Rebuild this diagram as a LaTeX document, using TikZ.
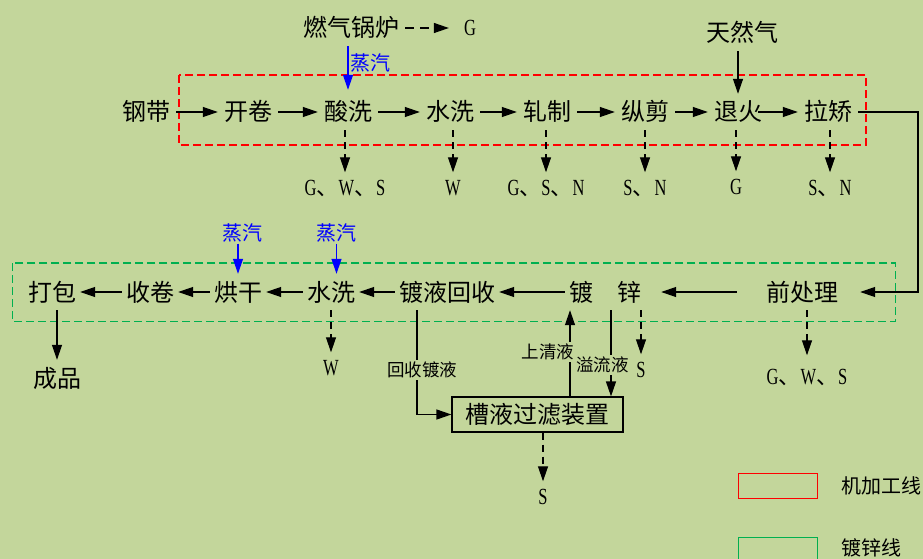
\documentclass[tikz,border=0pt]{standalone}
\usepackage{fontspec}
\setmainfont{Noto Sans CJK SC}
\newfontfamily\latfont{Liberation Serif}
\usepackage{graphicx}
\usetikzlibrary{arrows.meta,calc}
\definecolor{bg}{RGB}{195,214,155}
\definecolor{lred}{RGB}{255,0,0}
\definecolor{lgreen}{RGB}{0,176,80}
\definecolor{lblue}{RGB}{0,0,255}
\newcommand\latn[1]{\scalebox{0.75}[1.05]{\latfont #1}}
\begin{document}
\begin{tikzpicture}[x=1pt,y=-1pt,
  proc/.style={font=\fontsize{24}{24}\selectfont, text height=21pt, text depth=3pt, inner xsep=6pt, inner ysep=6pt},
  proc2/.style={proc, inner xsep=4pt},
  outl/.style={font=\fontsize{22}{22}\selectfont, text height=15pt, text depth=0pt, inner xsep=0pt, inner ysep=8pt},
  steam/.style={font=\fontsize{20}{20}\selectfont, text=lblue, text height=17.5pt, text depth=2.5pt, inner sep=0.5pt},
  lbl/.style={font=\fontsize{17.5}{17.5}\selectfont, fill=bg, inner sep=1pt, text height=15pt, text depth=2.5pt},
  legtxt/.style={font=\fontsize{20}{20}\selectfont, anchor=west, inner sep=0pt},
  ln/.style={line width=1.2pt},
  arr/.style={ln, -{Triangle[length=15pt,width=10pt]}},
  darr/.style={arr, dash pattern=on 7pt off 5pt},
  barr/.style={arr, draw=lblue, -{Triangle[length=15pt,width=10pt,fill=lblue]}},
  frame/.style={line width=1.1pt, dash pattern=on 8pt off 4pt},
  legbox/.style={draw, line width=1pt, minimum width=78.5pt, minimum height=25pt, inner sep=0pt}
]
\useasboundingbox (0,0) rectangle (923,559);
\fill[bg] (0,0) rectangle (923,559);
\clip (0,0) rectangle (923,559);

% frames
\draw[frame, lred] (179,75) rectangle (866,145);
\draw[frame, lgreen] (12.7,263) rectangle (895.5,321.5);

% top row
\node[proc] (gd) at (146,112) {钢带};
\node[proc] (kj) at (248,112) {开卷};
\node[proc] (sx) at (348,112) {酸洗};
\node[proc] (sx1) at (450,112) {水洗};
\node[proc] (zz) at (547,112) {轧制};
\node[proc] (zj) at (645,112) {纵剪};
\node[proc] (th) at (738,112) {退火};
\node[proc] (lj) at (828,112) {拉矫};
\node[proc] (rq) at (351,28) {燃气锅炉};
\node[outl] (g0) at (470,28) {\latn{G}};
\node[proc] (trq) at (742,33) {天然气};
\node[steam, anchor=west] (zq0) at (350,63) {蒸汽};

\node[outl] (o1) at (345,188) {\latn{G}、\latn{W}、\latn{S}};
\node[outl] (o2) at (453,188) {\latn{W}};
\node[outl] (o3) at (546,188) {\latn{G}、\latn{S}、\latn{N}};
\node[outl] (o4) at (645,188) {\latn{S}、\latn{N}};
\node[outl] (o5) at (736,187) {\latn{G}};
\node[outl] (o6) at (830,188) {\latn{S}、\latn{N}};

% second row
\node[proc2] (qcl) at (802,292) {前处理};
\node[proc2] (dx) at (605,292) {镀\hspace{24pt}锌};
\node[proc2] (dyhs) at (447,292) {镀液回收};
\node[proc2] (sx2) at (331,292) {水洗};
\node[proc2] (hg) at (238,292) {烘干};
\node[proc2] (sj) at (150,292) {收卷};
\node[proc2] (db) at (52,292) {打包};
\node[proc] (cp) at (57,378) {成品};
\node[steam] (zq1) at (242,233) {蒸汽};
\node[steam] (zq2) at (336.5,233) {蒸汽};
\node[outl] (o7) at (331,368) {\latn{W}};
\node[outl] (o8) at (641,370) {\latn{S}};
\node[outl] (o9) at (807,377) {\latn{G}、\latn{W}、\latn{S}};
\node[draw, line width=1.2pt, font=\fontsize{24}{24}\selectfont, minimum width=171pt, minimum height=35pt, inner sep=0pt, text height=21pt, text depth=3pt] (bx) at (537.5,414.5) {槽液过滤装置};
\node[outl] (o10) at (543,497) {\latn{S}};

% legend
\node[legbox, draw=lred] (lg1) at (777.75,485.5) {};
\node[legtxt] (lt1) at (841,486) {机加工线};
\node[legbox, draw=lgreen] (lg2) at (777.75,549.5) {};
\node[legtxt] (lt2) at (841,548) {镀锌线};

% top row connectors
\draw[arr] (gd.east) -- (kj.west);
\draw[arr] (kj.east) -- (sx.west);
\draw[arr] (sx.east) -- (sx1.west);
\draw[arr] (sx1.east) -- (zz.west);
\draw[arr] (zz.east) -- (zj.west);
\draw[arr] (zj.east) -- (th.west);
\draw[arr] ([xshift=-10pt]th.east) -- (lj.west);
\coordinate (rc) at (918,200);
\draw[arr] (lj.east) -| (rc) |- ([xshift=18pt]qcl.east);

\draw[darr, dash pattern=on 9pt off 6pt] (rq.east) -- ([xshift=-15pt]g0.west);
\draw[barr] (sx.north |- rq.south) -- ([yshift=4pt]sx.north);
\draw[arr] (th.north |- trq.south) -- (th.north);

\draw[darr] (sx.south -| o1.north) -- (o1.north);
\draw[darr] (sx1.south -| o2.north) -- (o2.north);
\draw[darr] (zz.south -| o3.north) -- (o3.north);
\draw[darr] (zj.south -| o4.north) -- (o4.north);
\draw[darr] (th.south -| o5.north) -- (o5.north);
\draw[darr] (lj.south -| o6.north) -- (o6.north);

% second row connectors
\draw[arr] ([xshift=-25pt]qcl.west) -- ([xshift=16pt]dx.east);
\draw[arr] (dx.west) -- (dyhs.east);
\draw[arr] (dyhs.west) -- (sx2.east);
\draw[arr] (sx2.west) -- (hg.east);
\draw[arr] (hg.west) -- (sj.east);
\draw[arr] (sj.west) -- (db.east);

\draw[barr] (hg.north |- zq1.south) -- (hg.north);
\draw[barr] (zq2.south) -- (zq2.south |- sx2.north);

\draw[arr] (cp.north |- db.south) -- (cp.north);
\draw[darr] (sx2.south -| o7.north) -- (o7.north);
\draw[darr] (o8.north |- dx.south) -- (o8.north);
\draw[darr] (o9.north |- qcl.south) -- ([yshift=6pt]o9.north);

\draw[arr] ([xshift=-30pt]dyhs.south) |- (bx.west);
\draw[arr] ([xshift=32.5pt]bx.north) -- ([xshift=32.5pt]bx.north |- dx.south);
\draw[arr] ([xshift=73.5pt]bx.north |- dx.south) -- ([xshift=73.5pt]bx.north);
\draw[darr] (bx.south -| o10.north) -- (o10.north);

% labels on lines
\node[lbl] (l1) at (422,370) {回收镀液};
\node[lbl] (l2) at (548,352) {上清液};
\node[lbl] (l3) at (602.5,365) {溢流液};
\end{tikzpicture}
\end{document}
